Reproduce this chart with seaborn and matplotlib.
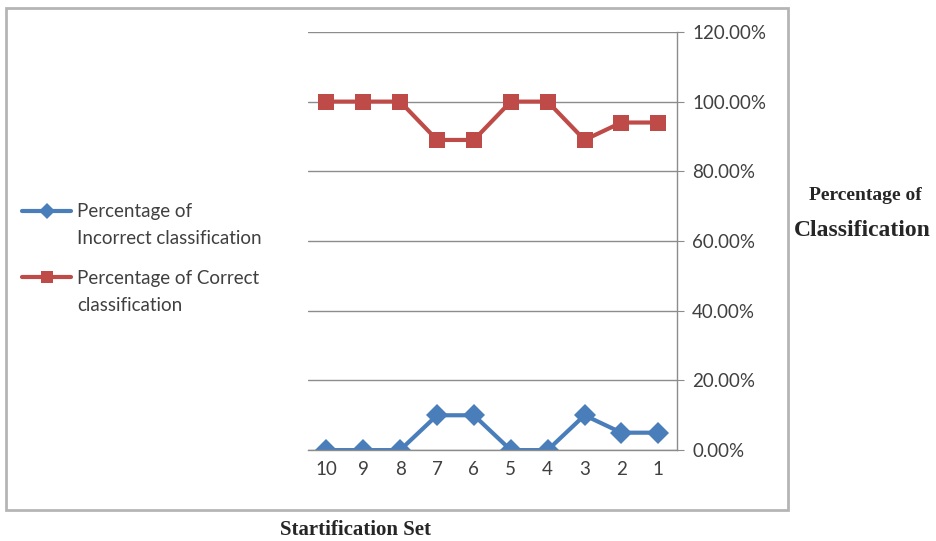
import pandas as pd
import matplotlib.pyplot as plt
import seaborn as sns
from matplotlib.patches import Rectangle
from matplotlib.ticker import PercentFormatter

# Du lieu doc tu hinh
sets = ["10", "9", "8", "7", "6", "5", "4", "3", "2", "1"]
incorrect = [0, 0, 0, 10, 10, 0, 0, 10, 5, 5]
correct = [100, 100, 100, 89, 89, 100, 100, 89, 94, 94]
y_ticks = [0, 20, 40, 60, 80, 100, 120]

lbl_inc = "Percentage of\nIncorrect classification"
lbl_cor = "Percentage of Correct\nclassification"

df = pd.DataFrame({
    "set": sets * 2,
    "value": incorrect + correct,
    "series": [lbl_inc] * len(sets) + [lbl_cor] * len(sets),
})

sns.set_style("white")
plt.rcParams['font.family'] = ['Lato', 'DejaVu Sans']

fig = plt.figure(figsize=(9.36, 5.41), dpi=100)
ax = fig.add_axes([0.329, 0.168, 0.394, 0.773])

sns.lineplot(data=df, x="set", y="value", hue="series", style="series",
             palette={lbl_inc: "#4A7EBB", lbl_cor: "#BE4B48"},
             markers={lbl_inc: "D", lbl_cor: "s"}, dashes=False,
             linewidth=3, markersize=11, markeredgewidth=0, ax=ax)

ax.set_xlim(-0.5, len(sets) - 0.5)
ax.set_ylim(0, 120)
ax.set_yticks(y_ticks)
ax.yaxis.set_major_formatter(PercentFormatter(decimals=2))
ax.yaxis.tick_right()
ax.grid(axis="y", color="#8c8c8c", linewidth=1)
ax.set_axisbelow(True)
ax.set_xlabel("")
ax.set_ylabel("")

for side in ["left", "top"]:
    ax.spines[side].set_visible(False)
for side in ["right", "bottom"]:
    ax.spines[side].set_color("#8c8c8c")
    ax.spines[side].set_linewidth(1)

ax.set_xticks([i + 0.5 for i in range(-1, len(sets))], minor=True)
ax.tick_params(axis="x", which="major", length=0, labelsize=13.5, labelcolor="#404040", pad=8)
ax.tick_params(axis="x", which="minor", length=5, color="#8c8c8c", direction="inout")
ax.tick_params(axis="y", length=5, color="#8c8c8c", labelsize=13.5, labelcolor="#404040", pad=6)

# chu giai: dong dau canh voi ky hieu, dong hai ve rieng
handles, labels = ax.get_legend_handles_labels()
for h in handles:
    h.set_markersize(8)
ax.get_legend().remove()
first_lines = [l.split("\n")[0] for l in labels]
second_lines = [l.split("\n")[1] for l in labels]
leg = fig.legend(handles, first_lines, loc="center left", bbox_to_anchor=(0.006, 0.547),
                 frameon=False, fontsize=13.5, labelcolor="#404040",
                 handlelength=2.6, labelspacing=2.65, handletextpad=0.3)
fig.canvas.draw()
for t, extra in zip(leg.get_texts(), second_lines):
    bb = t.get_window_extent()
    fig.text(bb.x0 / 936, (bb.y0 - 27) / 541, extra, ha="left", va="bottom",
             fontsize=13.5, color="#404040")

# khung ngoai
fig.patches.append(Rectangle((6 / 936, 31 / 541), 782 / 936, 502 / 541,
                             transform=fig.transFigure, fill=False,
                             edgecolor="#b5b5b5", linewidth=2))

fig.text(865 / 936, 1 - 195 / 541, "Percentage of", ha="center", va="center",
         family="Liberation Serif", fontweight="bold", fontsize=14)
fig.text(862 / 936, 1 - 230 / 541, "Classification", ha="center", va="center",
         family="Liberation Serif", fontweight="bold", fontsize=17)
fig.text(355 / 936, 1 - 530 / 541, "Startification Set", ha="center", va="center",
         family="Liberation Serif", fontweight="bold", fontsize=15)

fig.savefig("out.png", dpi=100)
